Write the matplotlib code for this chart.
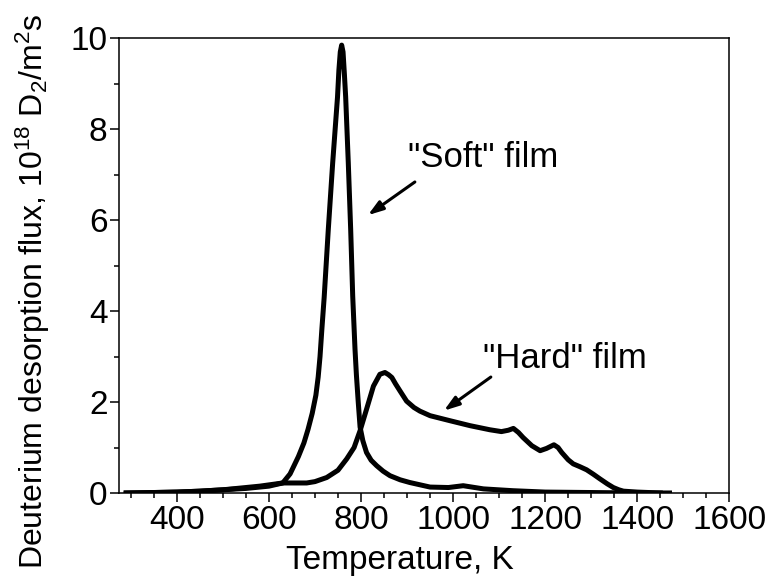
import matplotlib
matplotlib.use("Agg")
import matplotlib.pyplot as plt
from matplotlib.ticker import MultipleLocator

plt.rcParams['font.family'] = ['Liberation Sans', 'DejaVu Sans']
plt.rcParams['mathtext.fontset'] = 'custom'
plt.rcParams['mathtext.rm'] = 'Liberation Sans'
plt.rcParams['mathtext.it'] = 'Liberation Sans'
plt.rcParams['mathtext.bf'] = 'Liberation Sans'

# "Soft" film TDS spectrum (Temperature K, flux 1e18 D2/m2s)
soft_T = [290, 350, 400, 450, 500, 550, 600, 630, 646, 664, 676, 685, 694, 702, 707, 711, 715,
          720, 729, 738.5, 749, 752, 755, 758, 761, 764, 766.7, 772.4, 777.6, 782, 787, 790,
          794, 798, 804, 812, 822, 834, 848, 863, 885, 906, 950, 990, 1022, 1066, 1130,
          1200, 1300, 1400, 1470]
soft_v = [0.0, 0.01, 0.02, 0.04, 0.07, 0.1, 0.15, 0.22, 0.42, 0.8, 1.1, 1.4, 1.75, 2.15, 2.55,
          3.0, 3.6, 4.3, 5.8, 7.26, 8.71, 9.3, 9.7, 9.85, 9.7, 9.2, 8.71, 7.26, 5.79, 4.33, 3.16,
          2.6, 2.0, 1.45, 1.15, 0.89, 0.72, 0.6, 0.48, 0.38, 0.29, 0.23, 0.13, 0.12, 0.16, 0.09,
          0.05, 0.02, 0.01, 0.0, 0.0]

# "Hard" film TDS spectrum
hard_T = [290, 350, 400, 450, 500, 580, 630, 682, 700, 725.5, 750, 769, 785, 798, 812,
          827, 841, 852, 860, 867, 875, 885, 899, 915, 928, 950, 993, 1037, 1080, 1105,
          1120, 1131, 1142, 1152, 1171, 1189, 1203, 1219, 1228, 1236, 1250, 1261, 1275,
          1290, 1305, 1319, 1335, 1348, 1360, 1370, 1400, 1450]
hard_v = [0.0, 0.01, 0.02, 0.04, 0.07, 0.15, 0.22, 0.22, 0.25, 0.34, 0.5, 0.75, 1.0, 1.37, 1.84,
          2.35, 2.61, 2.65, 2.6, 2.54, 2.4, 2.24, 2.02, 1.88, 1.8, 1.7, 1.59, 1.48, 1.39, 1.35,
          1.38, 1.42, 1.33, 1.22, 1.04, 0.93, 0.98, 1.06, 1.0, 0.89, 0.73, 0.64, 0.58,
          0.51, 0.41, 0.31, 0.2, 0.12, 0.07, 0.04, 0.02, 0.0]

fig = plt.figure(figsize=(7.74, 5.81), dpi=100)
ax = fig.add_axes([0.1541, 0.1515, 0.7882, 0.7826])

ax.plot(soft_T, soft_v, color='black', lw=3.6, solid_joinstyle='round')
ax.plot(hard_T, hard_v, color='black', lw=3.6, solid_joinstyle='round')

ax.set_xlim(275, 1600)
ax.set_ylim(0, 10)
ax.xaxis.set_major_locator(MultipleLocator(200))
ax.xaxis.set_minor_locator(MultipleLocator(50))
ax.yaxis.set_major_locator(MultipleLocator(2))
ax.yaxis.set_minor_locator(MultipleLocator(1))
ax.set_xticks([400, 600, 800, 1000, 1200, 1400, 1600])

for s in ax.spines.values():
    s.set_linewidth(1.1)
ax.tick_params(which='both', direction='out', width=1.1, labelsize=24, top=False, right=False)
ax.tick_params(which='major', length=6.5, pad=2)
ax.tick_params(which='minor', length=3.8)

ax.set_xlabel('Temperature, K', fontsize=24)
ax.xaxis.set_label_coords(0.46, -0.115)
ax.set_ylabel('Deuterium desorption flux, 10$^{18}$ D$_2$/m$^2$s', fontsize=23)
ax.yaxis.label.set_va('center')
ax.yaxis.set_label_coords(-0.1415, 0.443)

ax.annotate('', xy=(815, 6.11), xytext=(917, 6.84),
            arrowprops=dict(arrowstyle='-|>,head_length=0.9,head_width=0.3', lw=2.2,
                            color='black', shrinkA=0, shrinkB=0))
ax.text(902, 7.16, '"Soft" film', fontsize=25, ha='left', va='baseline')

ax.annotate('', xy=(980, 1.81), xytext=(1082, 2.55),
            arrowprops=dict(arrowstyle='-|>,head_length=0.9,head_width=0.3', lw=2.2,
                            color='black', shrinkA=0, shrinkB=0))
ax.text(1065, 2.75, '"Hard" film', fontsize=25, ha='left', va='baseline')

fig.savefig('out.png', dpi=100)
